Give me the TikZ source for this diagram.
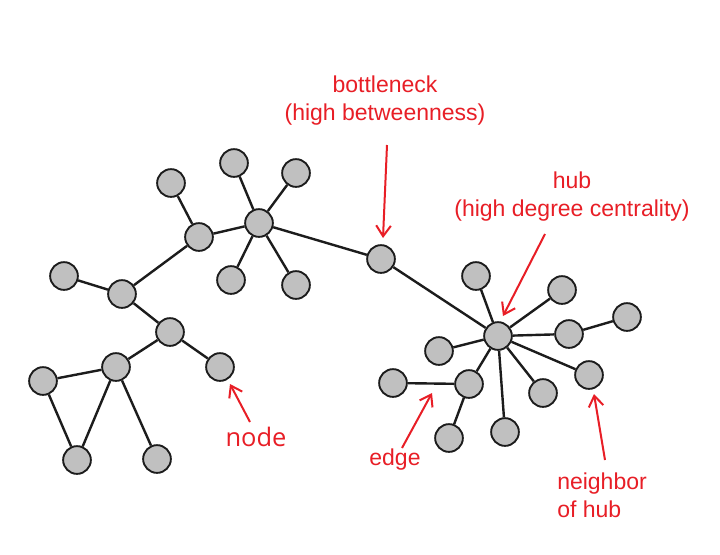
\documentclass[tikz,border=0pt]{standalone}
\usepackage{fontspec}
\setmainfont{Liberation Sans}
\newfontfamily\nodefont{Open Sans}
\usetikzlibrary{arrows.meta}
\definecolor{vred}{RGB}{232,30,38}
\definecolor{vfill}{RGB}{192,192,192}
\definecolor{vline}{RGB}{28,28,28}
\begin{document}
\begin{tikzpicture}[x=0.75pt,y=-0.75pt,
  vtx/.style={circle,draw=vline,fill=vfill,line width=1.4pt,minimum size=20.8pt,inner sep=0pt},
  lnk/.style={draw=vline,line width=1.8pt},
  ann/.style={draw=vred,line width=1.5pt,-{Straight Barb[length=8pt,width=11pt]}},
  lbl/.style={text=vred,inner sep=0pt,font=\fontsize{17.25}{21}\selectfont}]
\path[use as bounding box,fill=white] (0,0) rectangle (720,554);
% left cluster
\node[vtx] (A) at (234,163) {};
\node[vtx] (B) at (296,173) {};
\node[vtx] (C) at (171,183) {};
\node[vtx] (D) at (259,223) {};
\node[vtx] (E) at (199,237) {};
\node[vtx] (F) at (231,280) {};
\node[vtx] (G) at (296,285) {};
\node[vtx] (H) at (64,276) {};
\node[vtx] (I) at (122,294) {};
\node[vtx] (J) at (170,332) {};
\node[vtx] (K) at (116,367) {};
\node[vtx] (L) at (220,367) {};
\node[vtx] (M) at (43,381) {};
\node[vtx] (N) at (77,460) {};
\node[vtx] (O) at (157,459) {};
% bottleneck
\node[vtx] (P) at (381,259) {};
% right cluster
\node[vtx] (Q) at (476,276) {};
\node[vtx] (R) at (562,290) {};
\node[vtx] (S) at (627,317) {};
\node[vtx] (T) at (569,334) {};
\node[vtx] (U) at (498,336) {};
\node[vtx] (V) at (439,351) {};
\node[vtx] (W) at (589,375) {};
\node[vtx] (X) at (393,383) {};
\node[vtx] (Y) at (469,384) {};
\node[vtx] (Z) at (543,393) {};
\node[vtx] (AA) at (449,438) {};
\node[vtx] (AB) at (505,432) {};
% edges
\draw[lnk] (C) -- (E);
\draw[lnk] (E) -- (D);
\draw[lnk] (A) -- (D);
\draw[lnk] (B) -- (D);
\draw[lnk] (F) -- (D);
\draw[lnk] (G) -- (D);
\draw[lnk] (D) -- (P);
\draw[lnk] (E) -- (I);
\draw[lnk] (H) -- (I);
\draw[lnk] (I) -- (J);
\draw[lnk] (J) -- (K);
\draw[lnk] (J) -- (L);
\draw[lnk] (K) -- (M);
\draw[lnk] (K) -- (N);
\draw[lnk] (K) -- (O);
\draw[lnk] (M) -- (N);
\draw[lnk] (P) -- (U);
\draw[lnk] (U) -- (Q);
\draw[lnk] (U) -- (R);
\draw[lnk] (U) -- (T);
\draw[lnk] (T) -- (S);
\draw[lnk] (U) -- (V);
\draw[lnk] (U) -- (W);
\draw[lnk] (U) -- (Z);
\draw[lnk] (U) -- (AB);
\draw[lnk] (U) -- (Y);
\draw[lnk] (Y) -- (X);
\draw[lnk] (Y) -- (AA);
% labels (base anchor = baseline of last line)
\node[lbl,anchor=base,align=center] (tb) at (385,120) {bottleneck\\(high betweenness)};
\node[lbl,anchor=base,align=center] (th) at (572,216) {hub\\(high degree centrality)};
\node[lbl,anchor=base,font=\nodefont\fontsize{19.1}{23}\selectfont] (tn) at (256,446) {node};
\node[lbl,anchor=base] (te) at (395,465) {edge};
\node[lbl,anchor=base west,align=left] (tg) at (557,517) {neighbor\\of hub};
% arrows
\coordinate (b1) at (387,145); \coordinate (b2) at (383,238);
\coordinate (h1) at (545,234); \coordinate (h2) at (503,316);
\coordinate (n1) at (250,422); \coordinate (n2) at (230,384);
\coordinate (e1) at (402,448); \coordinate (e2) at (432,393);
\coordinate (g1) at (605,460); \coordinate (g2) at (594,394);
\draw[ann] (b1) -- (b2);
\draw[ann] (h1) -- (h2);
\draw[ann] (n1) -- (n2);
\draw[ann] (e1) -- (e2);
\draw[ann] (g1) -- (g2);
\end{tikzpicture}
\end{document}
